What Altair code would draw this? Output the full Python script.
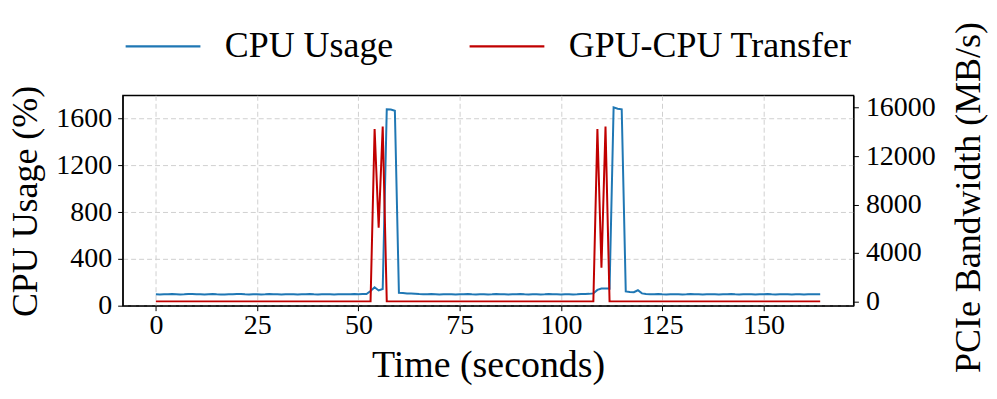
import altair as alt
import pandas as pd

# sample times (seconds)
time = list(range(165))

# CPU usage (%)
cpu = [
    97, 96, 98, 97, 99, 98, 96, 97, 99, 100,
    98, 97, 96, 98, 99, 97, 96, 95, 97, 98,
    100, 99, 97, 96, 98, 97, 96, 97, 99, 98,
    97, 96, 97, 98, 97, 96, 97, 98, 99, 97,
    96, 97, 98, 97, 96, 97, 98, 97, 98, 99,
    98, 99, 100, 125, 157, 130, 143, 1680, 1678, 1668,
    110, 108, 104, 105, 103, 100, 98, 97, 99, 98,
    96, 97, 98, 97, 96, 97, 98, 99, 97, 96,
    97, 98, 96, 97, 99, 98, 97, 96, 97, 98,
    99, 97, 96, 98, 97, 96, 97, 99, 98, 97,
    96, 97, 98, 96, 97, 99, 100, 101, 105, 135,
    146, 148, 146, 1697, 1685, 1680, 122, 118, 115, 132,
    105, 100, 98, 97, 99, 97, 96, 97, 98, 97,
    96, 97, 99, 98, 97, 96, 97, 98, 97, 96,
    97, 98, 99, 97, 96, 97, 98, 97, 96, 97,
    98, 99, 97, 96, 97, 98, 97, 96, 98, 97,
    96, 97, 98, 97, 98,
]

# GPU-CPU transfer bandwidth (MB/s)
pcie = [
    0, 0, 0, 0, 0, 0, 0, 0, 0, 0,
    0, 0, 0, 0, 0, 0, 0, 0, 0, 0,
    0, 0, 0, 0, 0, 0, 0, 0, 0, 0,
    0, 0, 0, 0, 0, 0, 0, 0, 0, 0,
    0, 0, 0, 0, 0, 0, 0, 0, 0, 0,
    0, 0, 0, 0, 14240, 6080, 14430, 0, 0, 0,
    0, 0, 0, 0, 0, 0, 0, 0, 0, 0,
    0, 0, 0, 0, 0, 0, 0, 0, 0, 0,
    0, 0, 0, 0, 0, 0, 0, 0, 0, 0,
    0, 0, 0, 0, 0, 0, 0, 0, 0, 0,
    0, 0, 0, 0, 0, 0, 0, 0, 0, 14240,
    2780, 14430, 0, 0, 0, 0, 0, 0, 0, 0,
    0, 0, 0, 0, 0, 0, 0, 0, 0, 0,
    0, 0, 0, 0, 0, 0, 0, 0, 0, 0,
    0, 0, 0, 0, 0, 0, 0, 0, 0, 0,
    0, 0, 0, 0, 0, 0, 0, 0, 0, 0,
    0, 0, 0, 0, 0,
]

series_names = ["CPU Usage", "GPU-CPU Transfer"]
series_colors = ["#1f77b4", "#c00000"]
x_ticks = [0, 25, 50, 75, 100, 125, 150]
cpu_ticks = [0, 400, 800, 1200, 1600]
bw_ticks = [0, 4000, 8000, 12000, 16000]

df = pd.DataFrame({"time": time, "cpu": cpu, "pcie": pcie})

FONT = "Liberation Serif"

color = alt.Color(
    "series:N",
    scale=alt.Scale(domain=series_names, range=series_colors),
    legend=alt.Legend(
        title=None,
        orient="none",
        direction="horizontal",
        legendX=1.5,
        legendY=-88,
        symbolType="stroke",
        symbolSize=5625,
        symbolStrokeWidth=2.2,
        labelFontSize=36,
        labelFont=FONT,
        labelColor="black",
        labelOffset=23,
        labelLimit=0,
        columnPadding=72,
        padding=0,
    ),
)

x = alt.X(
    "time:Q",
    scale=alt.Scale(domain=[-8.2, 172.2], nice=False, zero=False),
    axis=alt.Axis(
        values=x_ticks,
        format="d",
        title="Time (seconds)",
        titleFontSize=38,
        titleFontWeight="normal",
        titleBaseline="alphabetic",
        titleY=71,
        labelPadding=1,
        grid=True,
    ),
)

cpu_line = (
    alt.Chart(df)
    .transform_calculate(series="'CPU Usage'")
    .mark_line(strokeWidth=2, clip=True)
    .encode(
        x=x,
        y=alt.Y(
            "cpu:Q",
            scale=alt.Scale(domain=[0, 1800], nice=False, zero=False),
            axis=alt.Axis(
                orient="left",
                values=cpu_ticks,
                format="d",
                title="CPU Usage (%)",
                titleFontSize=36,
                titleFontWeight="normal",
                titleAngle=270,
                titleBaseline="alphabetic",
                titleX=-86.6,
                titleY=106,
                labelPadding=6,
                grid=True,
            ),
        ),
        color=color,
    )
)

bw_line = (
    alt.Chart(df)
    .transform_calculate(series="'GPU-CPU Transfer'")
    .mark_line(strokeWidth=2, clip=True)
    .encode(
        x=x,
        y=alt.Y(
            "pcie:Q",
            scale=alt.Scale(domain=[-355, 17015], nice=False, zero=False),
            axis=alt.Axis(
                orient="right",
                values=bw_ticks,
                format="d",
                title="PCIe Bandwidth (MB/s)",
                titleFontSize=36,
                titleFontWeight="normal",
                titleAngle=270,
                titleBaseline="alphabetic",
                titleX=126.6,
                titleY=102,
                labelPadding=7,
                grid=False,
            ),
        ),
        color=color,
    )
)

chart = (
    alt.layer(cpu_line, bw_line)
    .resolve_scale(y="independent")
    .properties(
        width=733,
        height=211,
        autosize=alt.AutoSizeParams(type="none"),
        padding={"left": 115, "top": 87, "right": 136, "bottom": 84},
        background="white",
    )
    .configure_view(stroke="black", strokeWidth=1.3)
    .configure_axis(
        labelFont=FONT,
        titleFont=FONT,
        labelFontSize=28,
        labelColor="black",
        titleColor="black",
        domainColor="black",
        domainWidth=1.3,
        tickColor="black",
        tickSize=5,
        tickWidth=1,
        gridColor="#d0d0d0",
        gridDash=[5, 3],
        gridWidth=1,
        labelFlush=False,
        labelOverlap=False,
    )
)

chart.save("out.html", embed_options={"renderer": "svg", "actions": False})
